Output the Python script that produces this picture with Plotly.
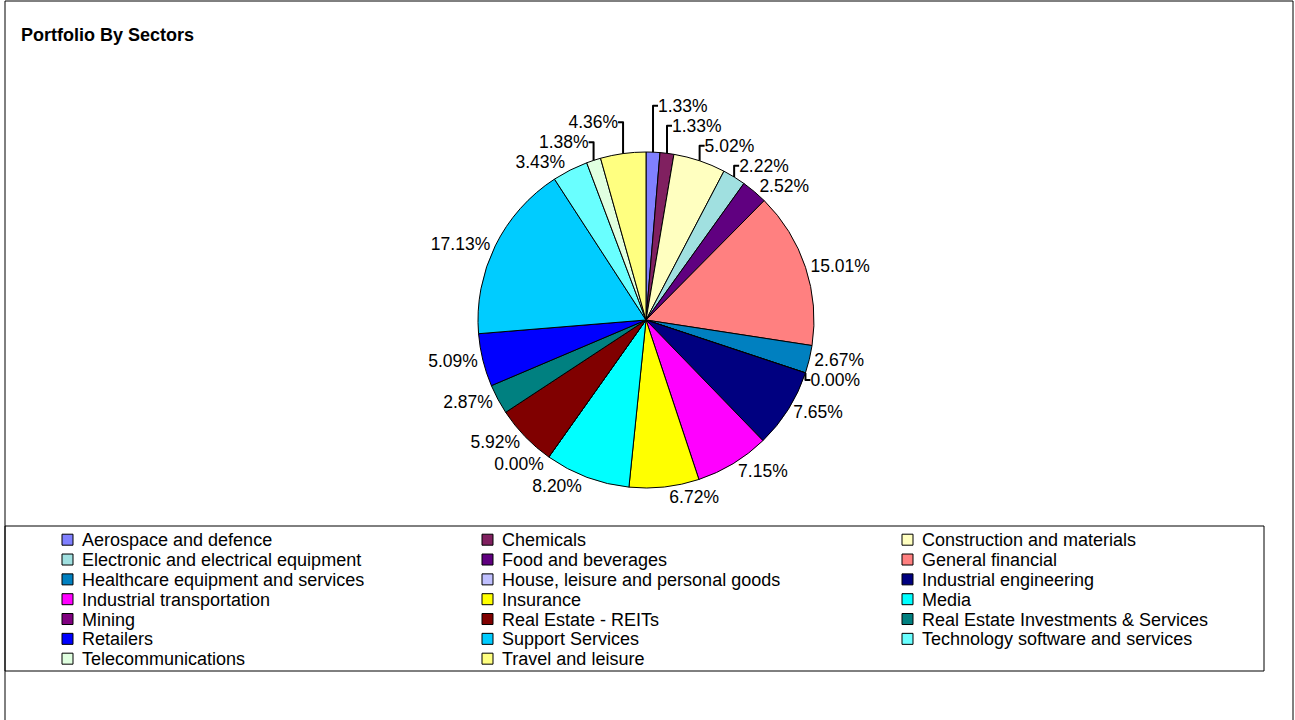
import plotly.graph_objects as go

W, H = 1295, 720

sectors = [
    "Aerospace and defence", "Chemicals", "Construction and materials",
    "Electronic and electrical equipment", "Food and beverages", "General financial",
    "Healthcare equipment and services", "House, leisure and personal goods", "Industrial engineering",
    "Industrial transportation", "Insurance", "Media",
    "Mining", "Real Estate - REITs", "Real Estate Investments & Services",
    "Retailers", "Support Services", "Technology software and services",
    "Telecommunications", "Travel and leisure",
]
weights = [1.33, 1.33, 5.02, 2.22, 2.52, 15.01, 2.67, 0.00, 7.65, 7.15,
           6.72, 8.20, 0.00, 5.92, 2.87, 5.09, 17.13, 3.43, 1.38, 4.36]
colors = ["#8080FF", "#802060", "#FFFFC0", "#A0E0E0", "#600080", "#FF8080",
          "#0080C0", "#C0C0FF", "#000080", "#FF00FF", "#FFFF00", "#00FFFF",
          "#800080", "#800000", "#008080", "#0000FF", "#00CCFF", "#69FFFF",
          "#E0FFE0", "#FFFF80"]
title_text = "Portfolio By Sectors"

FONT = "Liberation Sans, Arial, sans-serif"


def px(x):
    return x / W


def py(y):
    return 1 - y / H


fig = go.Figure()
fig.add_trace(go.Pie(
    labels=sectors,
    values=weights,
    sort=False,
    direction="clockwise",
    rotation=0,
    marker=dict(colors=colors, line=dict(color="black", width=1)),
    texttemplate="%{value:.2f}%",
    textposition="outside",
    outsidetextfont=dict(family=FONT, size=17.5, color="black"),
    domain=dict(x=[px(478), px(814)], y=[py(488), py(152)]),
    showlegend=False,
    hoverinfo="label+value",
))

shapes = []
annotations = []

# outer frame
shapes.append(dict(type="rect", xref="paper", yref="paper",
                   x0=px(5), x1=px(1293), y0=py(730), y1=py(1),
                   line=dict(color="black", width=1), fillcolor="rgba(0,0,0,0)"))
# legend box
shapes.append(dict(type="rect", xref="paper", yref="paper",
                   x0=px(5), x1=px(1264), y0=py(671), y1=py(526),
                   line=dict(color="black", width=1), fillcolor="white", layer="below"))

# legend entries (3 columns, row-major)
col_sq = [62, 482, 902]
row0, row_gap = 539.7, 19.83
sq = 11
for i, (name, col) in enumerate(zip(sectors, colors)):
    r, c = divmod(i, 3)
    cy = row0 + r * row_gap
    x0 = col_sq[c]
    shapes.append(dict(type="rect", xref="paper", yref="paper",
                       x0=px(x0), x1=px(x0 + sq), y0=py(cy + sq / 2), y1=py(cy - sq / 2),
                       line=dict(color="black", width=1), fillcolor=col))
    annotations.append(dict(text=name, xref="paper", yref="paper",
                            x=px(x0 + 18), y=py(cy + 0.5), xanchor="left", yanchor="middle",
                            showarrow=False, font=dict(family=FONT, size=18, color="black")))

annotations.append(dict(text="<b>" + title_text + "</b>", xref="paper", yref="paper",
                        x=px(19), y=py(35), xanchor="left", yanchor="middle",
                        showarrow=False, font=dict(family=FONT, size=18, color="black")))

fig.update_layout(
    width=W, height=H,
    margin=dict(l=0, r=0, t=0, b=0),
    paper_bgcolor="white",
    plot_bgcolor="white",
    shapes=shapes,
    annotations=annotations,
    showlegend=False,
)

fig.write_html("out.html")
